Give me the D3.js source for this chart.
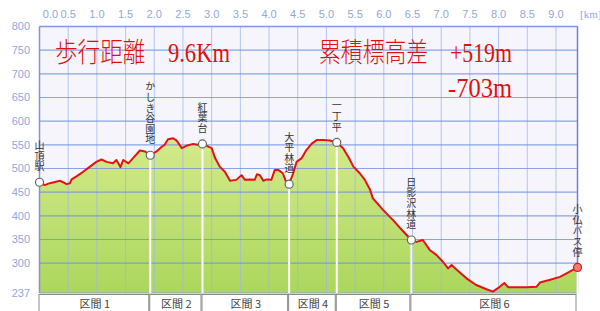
<!DOCTYPE html>
<html>
<head>
<meta charset="utf-8">
<script src="https://cdn.jsdelivr.net/npm/d3@7"></script>
<style>
  body { margin: 0; background: #fff; }
</style>
</head>
<body>
<div id="canvas"></div>
<script>
// profile: distance [km] and elevation [m]
var dist = [0.0, 0.09, 0.18, 0.36, 0.41, 0.47, 0.53, 0.56, 0.65, 0.76, 0.88, 0.99, 1.08, 1.17, 1.28, 1.34, 1.41, 1.46, 1.55, 1.63, 1.75, 1.84, 1.89, 1.93,
  2.04, 2.13, 2.18, 2.24, 2.33, 2.39, 2.48, 2.56, 2.68, 2.76, 2.84, 3.0, 3.06, 3.14, 3.23, 3.32, 3.43, 3.52, 3.58, 3.67, 3.75, 3.79, 3.84, 3.90, 3.96,
  4.04, 4.10, 4.16, 4.24, 4.29, 4.35, 4.42, 4.48, 4.57, 4.65, 4.74, 4.83, 4.94, 5.06, 5.18, 5.29, 5.38, 5.47, 5.58, 5.67, 5.76, 5.81, 5.99, 6.16,
  6.34, 6.48, 6.57, 6.68, 6.80, 6.92, 7.03, 7.12, 7.18, 7.27, 7.44, 7.61, 7.79, 7.90, 8.02, 8.10, 8.17, 8.31, 8.49, 8.66, 8.72, 8.90, 9.07, 9.24, 9.375];
var elev = [471, 465, 469, 474, 471, 467, 469, 477, 484, 493, 504, 514, 519, 514, 511, 518, 503, 518, 511, 522, 538, 536, 532, 528,
  536, 546, 550, 562, 564, 559, 543, 548, 552, 550, 552, 543, 522, 504, 493, 474, 476, 486, 476, 477, 476, 488, 486, 474, 477,
  476, 497, 497, 490, 474, 467, 490, 514, 522, 539, 552, 560, 560, 559, 555, 543, 525, 504, 490, 476, 455, 437, 412, 391,
  367, 349, 345, 349, 328, 317, 303, 289, 296, 286, 268, 254, 245, 240, 250, 258, 249, 249, 249, 250, 259, 265, 271, 282, 291];

// waypoints
var wpNames = ['山頂駅', 'かしき谷園地', '紅葉台', '大平林道', '一丁平', '日影沢林道', '小仏バス停'];
var wpDist = [0.0, 1.93, 2.84, 4.35, 5.18, 6.48, 9.375];
var wpElev = [471, 528, 552, 467, 555, 349, 291];

var sections = ['区間 1', '区間 2', '区間 3', '区間 4', '区間 5', '区間 6'];

var yTicks = [800, 750, 700, 650, 600, 550, 500, 450, 400, 350, 300, 237];
var xTicks = [0, 0.5, 1, 1.5, 2, 2.5, 3, 3.5, 4, 4.5, 5, 5.5, 6, 6.5, 7, 7.5, 8, 8.5, 9];

function drawProfile() {
    var width = 600, height = 311;
    var left = 39.5, right = 577.5, plotTop = 26.5, bottom = 293;

    var svg = d3.select('#canvas').append('svg')
        .attr('width', width)
        .attr('height', height)
        .style('display', 'block');

    var x = d3.scaleLinear().domain([0, 9.375]).range([left, right]);
    var y = d3.scaleLinear().domain([237, 800]).range([bottom, plotTop]);

    var defs = svg.append('defs');
    var grad = defs.append('linearGradient')
        .attr('id', 'green')
        .attr('gradientUnits', 'userSpaceOnUse')
        .attr('x1', 0).attr('y1', y(565))
        .attr('x2', 0).attr('y2', bottom);
    grad.append('stop').attr('offset', 0).attr('stop-color', '#d4ea8c');
    grad.append('stop').attr('offset', 1).attr('stop-color', '#abd75c');

    // plot background
    svg.append('rect')
        .attr('x', left).attr('y', plotTop)
        .attr('width', right - left).attr('height', bottom - plotTop)
        .attr('fill', '#f5f5fb');

    var pts = dist.map(function(d, i) { return [d, elev[i]]; });

    var area = d3.area()
        .x(function(d) { return x(d[0]); })
        .y0(bottom)
        .y1(function(d) { return y(d[1]); });

    svg.append('path')
        .datum(pts)
        .attr('d', area)
        .attr('fill', 'url(#green)');

    // grid
    svg.append('g').selectAll('line')
        .data(xTicks.filter(function(d) { return d > 0; }))
        .enter().append('line')
        .attr('x1', function(d) { return x(d); })
        .attr('x2', function(d) { return x(d); })
        .attr('y1', plotTop).attr('y2', bottom)
        .attr('stroke', '#9fb4ec')
        .attr('stroke-opacity', 0.75)
        .attr('stroke-width', 1);

    svg.append('g').selectAll('line')
        .data(yTicks.filter(function(d) { return d > 237 && d < 800; }))
        .enter().append('line')
        .attr('x1', left).attr('x2', right)
        .attr('y1', function(d) { return y(d); })
        .attr('y2', function(d) { return y(d); })
        .attr('stroke', '#6f90e6')
        .attr('stroke-opacity', 0.8)
        .attr('stroke-width', 1.2);

    // frame
    svg.append('line')
        .attr('x1', left).attr('x2', right).attr('y1', plotTop).attr('y2', plotTop)
        .attr('stroke', '#7e98e4').attr('stroke-width', 1.5);
    svg.append('line')
        .attr('x1', left).attr('x2', left).attr('y1', plotTop).attr('y2', bottom)
        .attr('stroke', '#8c8ce0').attr('stroke-width', 1.5);
    svg.append('line')
        .attr('x1', right).attr('x2', right).attr('y1', plotTop).attr('y2', bottom)
        .attr('stroke', '#7c7cc8').attr('stroke-width', 1.5);
    svg.append('line')
        .attr('x1', left).attr('x2', right).attr('y1', bottom).attr('y2', bottom)
        .attr('stroke', '#8ea4e0').attr('stroke-width', 1);

    // white drop lines at waypoints
    svg.append('g').selectAll('line')
        .data(wpDist.slice(1))
        .enter().append('line')
        .attr('x1', function(d) { return x(d); })
        .attr('x2', function(d) { return x(d); })
        .attr('y1', function(d, i) { return y(wpElev[i + 1]); })
        .attr('y2', bottom)
        .attr('stroke', '#ffffff')
        .attr('stroke-width', 2);

    // profile line
    var line = d3.line()
        .x(function(d) { return x(d[0]); })
        .y(function(d) { return y(d[1]); });

    svg.append('path')
        .datum(pts)
        .attr('d', line)
        .attr('fill', 'none')
        .attr('stroke', '#e61212')
        .attr('stroke-width', 2)
        .attr('stroke-linejoin', 'round');

    // axis labels
    svg.append('g').selectAll('text')
        .data(yTicks)
        .enter().append('text')
        .attr('x', 30)
        .attr('y', function(d) { return y(d); })
        .attr('dy', '0.35em')
        .attr('text-anchor', 'end')
        .attr('font-family', 'Liberation Sans, Arial, sans-serif')
        .attr('font-size', 11)
        .attr('fill', '#90a8dc')
        .text(function(d) { return d; });

    svg.append('g').selectAll('text')
        .data(xTicks)
        .enter().append('text')
        .attr('x', function(d) { return d === 0 ? x(d) + 11 : x(d); })
        .attr('y', 18)
        .attr('text-anchor', 'middle')
        .attr('font-family', 'Liberation Sans, Arial, sans-serif')
        .attr('font-size', 11)
        .attr('fill', '#90a8dc')
        .text(function(d) { return d.toFixed(1); });

    svg.append('text')
        .attr('x', 580).attr('y', 18)
        .attr('font-family', 'Liberation Serif, serif')
        .attr('font-size', 11)
        .attr('fill', '#90a8dc')
        .text('[km]');

    // waypoint markers
    svg.append('g').selectAll('circle')
        .data(wpDist)
        .enter().append('circle')
        .attr('cx', function(d) { return x(d); })
        .attr('cy', function(d, i) { return y(wpElev[i]); })
        .attr('r', 4)
        .attr('fill', function(d, i) { return i === wpDist.length - 1 ? '#f27a7a' : '#ffffff'; })
        .attr('stroke', function(d, i) { return i === wpDist.length - 1 ? '#e61212' : '#666'; })
        .attr('stroke-width', 1.2);

    // vertical waypoint names (one text each, set top-to-bottom)
    svg.append('g').selectAll('text')
        .data(wpNames)
        .enter().append('text')
        .attr('x', function(d, i) { return x(wpDist[i]); })
        .attr('y', function(d, i) { return y(wpElev[i]) - 10; })
        .style('writing-mode', 'vertical-rl')
        .attr('text-anchor', 'end')
        .attr('font-family', 'Noto Sans CJK JP, sans-serif')
        .attr('font-size', 10)
        .attr('letter-spacing', 0.6)
        .attr('fill', '#333')
        .text(function(d) { return d; });

    // section boxes
    var sg = svg.append('g').selectAll('g')
        .data(sections)
        .enter().append('g');
    sg.append('rect')
        .attr('x', function(d, i) { return x(wpDist[i]) - 0.5; })
        .attr('y', 294.5)
        .attr('width', function(d, i) { return x(wpDist[i + 1]) - x(wpDist[i]) - 1; })
        .attr('height', 20)
        .attr('fill', '#ffffff')
        .attr('stroke', '#8a8a8a')
        .attr('stroke-width', 1);
    sg.append('text')
        .attr('x', function(d, i) { return (x(wpDist[i]) + x(wpDist[i + 1])) / 2; })
        .attr('y', 308)
        .attr('text-anchor', 'middle')
        .attr('font-family', 'Noto Sans CJK JP, sans-serif')
        .attr('font-size', 11)
        .attr('fill', '#444')
        .text(function(d) { return d; });

    // headline texts
    var titleFont = 'Liberation Serif, Noto Sans CJK JP, serif';
    var titles = [
        {t: '歩行距離　9.6Km', x: 55, y: 62, w: 175},
        {t: '累積標高差　+519m', x: 319, y: 62, w: 193},
        {t: '-703m', x: 448, y: 97, w: 64}
    ];
    svg.append('g').selectAll('text')
        .data(titles)
        .enter().append('text')
        .attr('x', function(d) { return d.x; })
        .attr('y', function(d) { return d.y; })
        .attr('font-family', titleFont)
        .attr('font-size', 27)
        .attr('font-weight', 300)
        .attr('fill', '#e01010')
        .attr('textLength', function(d) { return d.w; })
        .attr('lengthAdjust', 'spacingAndGlyphs')
        .text(function(d) { return d.t; });
}

drawProfile();
</script>
</body>
</html>
